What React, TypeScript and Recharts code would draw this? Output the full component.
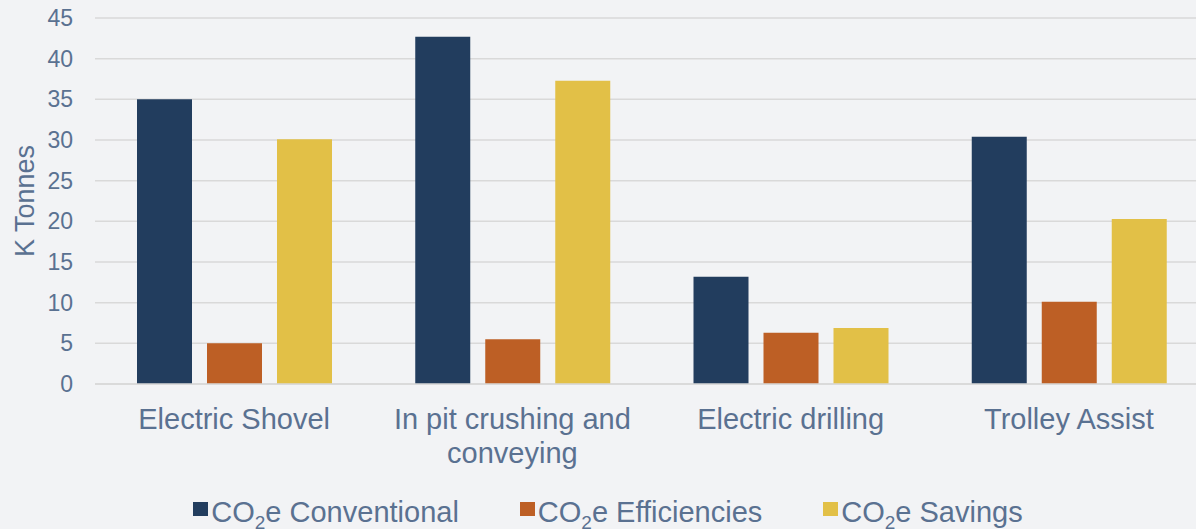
import React from 'react';
import { BarChart, Bar, XAxis, YAxis, CartesianGrid, Legend } from 'recharts';

const categories = ['Electric Shovel', 'In pit crushing and conveying', 'Electric drilling', 'Trolley Assist'];
const conventional = [35, 42.7, 13.2, 30.4];
const efficiencies = [5, 5.5, 6.3, 10.1];
const savings = [30.1, 37.3, 6.9, 20.3];
const yTicks = [0, 5, 10, 15, 20, 25, 30, 35, 40, 45];

const series = [
    { key: 'conventional', label: 'Conventional', color: '#223d5e' },
    { key: 'efficiencies', label: 'Efficiencies', color: '#bd5f25' },
    { key: 'savings', label: 'Savings', color: '#e2c047' },
];

const data = categories.map((name, i) => ({
    name,
    conventional: conventional[i],
    efficiencies: efficiencies[i],
    savings: savings[i],
}));

const TEXT = '#5a7191';
const FONT = '"Liberation Sans", Arial, sans-serif';

// wrap a label into lines no wider than maxWidth (measured with canvas)
let ctx: CanvasRenderingContext2D | null = null;
function wrapLabel(label: string, font: string, maxWidth: number) {
    if (!ctx) ctx = document.createElement('canvas').getContext('2d');
    if (!ctx) return [label];
    ctx.font = font;
    const lines: string[] = [];
    let cur = '';
    label.split(' ').forEach((w) => {
        const next = cur ? cur + ' ' + w : w;
        if (cur && ctx!.measureText(next).width > maxWidth) {
            lines.push(cur);
            cur = w;
        } else {
            cur = next;
        }
    });
    if (cur) lines.push(cur);
    return lines;
}

const CategoryTick = (props: any) => {
    const { x, y, payload } = props;
    const lines = wrapLabel(String(payload.value), `29px ${FONT}`, 268);
    return (
        <text x={x} y={y + 45} textAnchor="middle" fill={TEXT} fontSize={29} fontFamily={FONT}>
            {lines.map((l, i) => (
                <tspan key={i} x={x} dy={i === 0 ? 0 : 34}>
                    {l}
                </tspan>
            ))}
        </text>
    );
};

const YLabel = (props: any) => {
    const vb = props.viewBox || {};
    const cy = (vb.y ?? 18) + (vb.height ?? 366) / 2;
    return (
        <text
            x={25}
            y={cy}
            transform={`rotate(-90, 25, ${cy})`}
            textAnchor="middle"
            dominantBaseline="central"
            fill={TEXT}
            fontSize={27}
            fontFamily={FONT}
        >
            K Tonnes
        </text>
    );
};

const LegendContent = () => (
    <div style={{ display: 'flex', justifyContent: 'center', gap: 61, fontFamily: FONT, color: TEXT, fontSize: 29, lineHeight: '29px' }}>
        {series.map((s) => (
            <div key={s.key} style={{ display: 'flex', alignItems: 'flex-start' }}>
                <span style={{ width: 15, height: 14, background: s.color, marginTop: 4, marginRight: 3, display: 'inline-block' }} />
                <span style={{ whiteSpace: 'nowrap' }}>
                    CO<span style={{ fontSize: 19, verticalAlign: '-7px', lineHeight: 0 }}>2</span>e {s.label}
                </span>
            </div>
        ))}
    </div>
);

export default function App() {
    return (
        <div style={{ position: 'fixed', left: 0, top: 0, width: 1196, height: 529, overflow: 'hidden', background: '#f2f3f5' }}>
            <BarChart
                width={1208}
                height={529}
                data={data}
                margin={{ top: 18, right: 0, left: 0, bottom: 0 }}
                barSize={55}
                barGap={15}
            >
                <CartesianGrid vertical={false} stroke="#d9d9d9" strokeWidth={1.5} />
                <XAxis
                    dataKey="name"
                    height={145}
                    axisLine={{ stroke: '#d9d9d9', strokeWidth: 1.5 }}
                    tickLine={false}
                    tickSize={0}
                    tickMargin={0}
                    interval={0}
                    tick={<CategoryTick />}
                />
                <YAxis
                    width={95}
                    domain={[0, 45]}
                    ticks={yTicks}
                    axisLine={false}
                    tickLine={false}
                    tickSize={0}
                    tickMargin={22}
                    tick={{ fill: TEXT, fontSize: 23, fontFamily: FONT }}
                    label={<YLabel />}
                />
                <Legend
                    verticalAlign="middle"
                    layout="horizontal"
                    wrapperStyle={{ top: 498, left: 0, width: 1216 }}
                    content={<LegendContent />}
                />
                {series.map((s) => (
                    <Bar key={s.key} dataKey={s.key} fill={s.color} isAnimationActive={false} />
                ))}
            </BarChart>
        </div>
    );
}
